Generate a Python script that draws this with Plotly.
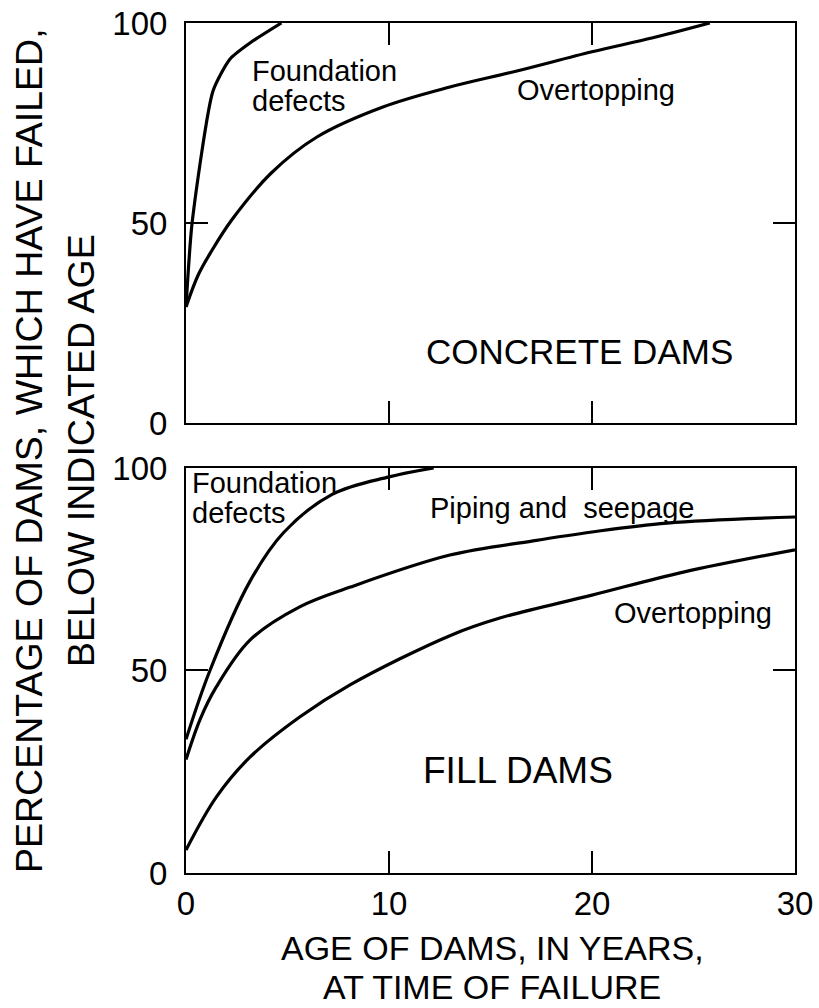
import plotly.graph_objects as go
from plotly.subplots import make_subplots

# ---- Data ----
# Concrete dams
conc_found_x = [0, 0.3, 1.33, 2.17, 3.15, 4.7]
conc_found_y = [29, 50, 83, 91, 95, 100]
conc_over_x = [0, 0.6, 1.26, 2.25, 4.2, 6.45, 9.7, 13, 16.3, 20, 23, 25.8]
conc_over_y = [29, 37, 43, 50.75, 62.5, 71.5, 79, 84, 88, 92.8, 96.3, 100]

# Fill dams
fill_found_x = [0, 1.18, 3.15, 4.8, 7.2, 10, 12.2]
fill_found_y = [33, 50, 72, 84, 93.5, 97.8, 100]
fill_pipe_x = [0, 0.7, 1.5, 3.15, 5.6, 8.1, 13, 17.1, 20, 23.7, 30]
fill_pipe_y = [28, 38, 46, 57.5, 65.7, 70.6, 78.5, 82, 84.2, 86.4, 87.9]
fill_over_x = [0, 1.5, 3.15, 5.6, 8.1, 13, 15.5, 20, 24.5, 30]
fill_over_y = [5.7, 18.8, 28.6, 38.5, 46.5, 58.6, 63, 68.6, 74.3, 79.8]

x_ticks = [0, 10, 20, 30]
y_ticks = [0, 50, 100]

FONT = "Liberation Sans, Arial, Helvetica, sans-serif"

fig = make_subplots(rows=2, cols=1, shared_xaxes=False, vertical_spacing=0.05)

def line_style(sm=1.0):
    return dict(color="black", width=3.2, shape="spline", smoothing=sm)

fig.add_trace(go.Scatter(x=conc_found_x, y=conc_found_y, mode="lines",
                         line=line_style(0.6), showlegend=False, hoverinfo="skip"),
              row=1, col=1)
fig.add_trace(go.Scatter(x=conc_over_x, y=conc_over_y, mode="lines",
                         line=line_style(1.0), showlegend=False, hoverinfo="skip"),
              row=1, col=1)
for xs, ys in [(fill_found_x, fill_found_y), (fill_pipe_x, fill_pipe_y),
               (fill_over_x, fill_over_y)]:
    fig.add_trace(go.Scatter(x=xs, y=ys, mode="lines", line=line_style(1.0),
                             showlegend=False, hoverinfo="skip"), row=2, col=1)

ax_common = dict(showline=True, linecolor="black", linewidth=2, mirror="allticks",
                 ticks="inside", ticklen=22, tickwidth=1.5, tickcolor="black",
                 showgrid=False, zeroline=False, automargin=False,
                 tickfont=dict(family=FONT, size=33, color="black"))

fig.update_xaxes(range=[0, 30], tickvals=x_ticks, **ax_common)
fig.update_yaxes(range=[0, 100], tickvals=y_ticks, ticklabelstandoff=10, **ax_common)
fig.update_xaxes(showticklabels=False, row=1, col=1)
fig.update_xaxes(ticklabelstandoff=0, row=2, col=1)

fig.update_layout(
    width=819, height=1008,
    margin=dict(l=186, r=24, t=23, b=135, autoexpand=False),
    paper_bgcolor="white", plot_bgcolor="white",
    xaxis=dict(domain=[0, 1]),
    yaxis=dict(domain=[0.5294, 1.0]),
    xaxis2=dict(domain=[0, 1]),
    yaxis2=dict(domain=[0.0, 0.4765]),
    font=dict(family=FONT, color="black"),
)

def ann(text, x, y, xref, yref, size, xanchor="left", **kw):
    fig.add_annotation(text=text, x=x, y=y, xref=xref, yref=yref, showarrow=False,
                       xanchor=xanchor, yanchor="middle",
                       font=dict(family=FONT, size=size, color="black"), **kw)

# top panel labels
ann("Foundation", 3.15, 88, "x", "y", 29)
ann("defects", 3.15, 80.5, "x", "y", 29)
ann("Overtopping", 16.2, 83.2, "x", "y", 29)
ann("CONCRETE DAMS", 19.4, 17.8, "x", "y", 35, xanchor="center")

# bottom panel labels
ann("Foundation", 0.2, 96.3, "x2", "y2", 29)
ann("defects", 0.2, 88.9, "x2", "y2", 29)
ann("Piping and  seepage", 11.9, 90.1, "x2", "y2", 29)
ann("Overtopping", 21.0, 64.2, "x2", "y2", 29)
ann("FILL DAMS", 16.35, 25.4, "x2", "y2", 37, xanchor="center")

# axis titles (one annotation per line)
ann("PERCENTAGE OF DAMS, WHICH HAVE FAILED,",
    (29 - 186) / 609, (873 - 451) / 850, "paper", "paper", 37.5,
    xanchor="center", textangle=-90)
ann("BELOW INDICATED AGE",
    (81 - 186) / 609, (873 - 451) / 850, "paper", "paper", 37.5,
    xanchor="center", textangle=-90)
ann("AGE OF DAMS, IN YEARS,",
    (492 - 186) / 609, (873 - 948) / 850, "paper", "paper", 34,
    xanchor="center")
ann("AT TIME OF FAILURE",
    (492 - 186) / 609, (873 - 987) / 850, "paper", "paper", 34,
    xanchor="center")

fig.write_html("out.html")
